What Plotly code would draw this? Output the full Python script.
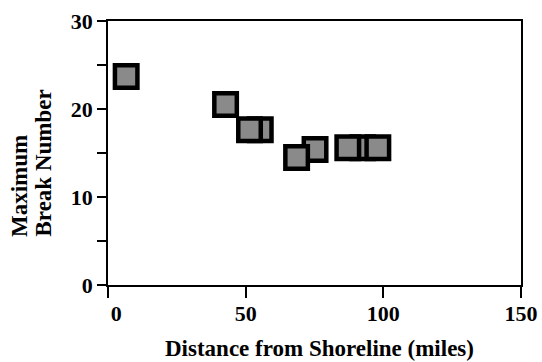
import plotly.graph_objects as go

# Data
distance_miles = [6.6, 42.7, 55.3, 51.4, 75.2, 68.5, 92.5, 87.1, 98.0]
max_break_number = [23.7, 20.5, 17.65, 17.65, 15.4, 14.5, 15.6, 15.6, 15.6]

x_ticks = [0, 50, 100, 150]
x_ticktext = ["\u00a0\u00a0\u00a00", "50", "100", "150"]
y_ticks = [0, 10, 20, 30]

FONT = "Liberation Serif"
tickfont = dict(family=FONT, size=22, color="black", weight="bold")

fig = go.Figure()
fig.add_trace(go.Scatter(
    x=distance_miles, y=max_break_number, mode="markers",
    marker=dict(symbol="square", size=22.5, color="#8a8a8a",
                line=dict(color="black", width=4.5)),
    showlegend=False, cliponaxis=False,
))

axis_common = dict(showgrid=False, zeroline=False, showline=True, linecolor="black",
                   linewidth=1.8, mirror=True, ticks="outside", tickcolor="black",
                   tickwidth=1.8, tickfont=tickfont, automargin=False)

fig.update_xaxes(range=[0, 150], tickvals=x_ticks, ticktext=x_ticktext, ticklen=11,
                 ticklabelstandoff=-3, **axis_common)
fig.update_yaxes(range=[0, 30], tickvals=y_ticks, ticklen=9,
                 minor=dict(tickvals=[5, 15, 25], ticklen=9, ticks="outside",
                            tickcolor="black", tickwidth=1.8),
                 **axis_common)

afont = dict(family=FONT, size=23, color="black")
fig.add_annotation(text="<b>Distance from Shoreline (miles)</b>", xref="paper", yref="paper",
                   x=0.5, y=0, xanchor="center", yanchor="middle", xshift=5, yshift=-63,
                   borderpad=0, showarrow=False, font=afont)
fig.add_annotation(text="<b>Maximum</b>", xref="paper", yref="paper", x=0, y=0,
                   xanchor="center", yanchor="bottom", xshift=-89, yshift=46,
                   textangle=-90, showarrow=False, font=afont)
fig.add_annotation(text="<b>Break Number</b>", xref="paper", yref="paper", x=0, y=0,
                   xanchor="center", yanchor="bottom", xshift=-65, yshift=46,
                   textangle=-90, showarrow=False, font=afont)

fig.update_layout(
    width=542, height=362,
    margin=dict(l=108, r=21, t=21, b=77),
    paper_bgcolor="white", plot_bgcolor="white",
    font=dict(family=FONT, color="black"),
)

fig.write_html("out.html", config={"displayModeBar": False},
               post_script="document.body.style.margin='0';document.body.style.overflow='hidden';")
